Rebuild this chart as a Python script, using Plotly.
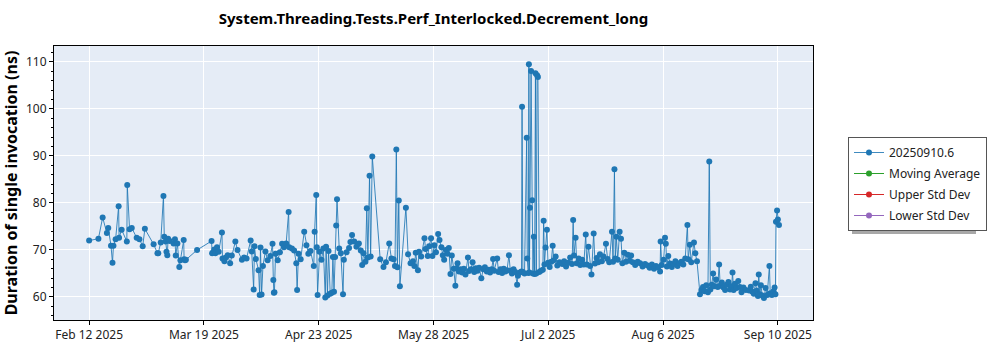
import plotly.graph_objects as go

# ---- data ----
dates_feb = ["2025-02-12 00:00", "2025-02-14 20:00", "2025-02-16 03:00", "2025-02-17 10:00", "2025-02-17 20:00",
             "2025-02-18 16:00", "2025-02-19 03:00", "2025-02-19 10:00", "2025-02-20 02:00", "2025-02-21 00:00",
             "2025-02-21 03:00", "2025-02-21 22:00", "2025-02-23 12:00", "2025-02-23 15:00", "2025-02-24 08:00",
             "2025-02-25 00:00", "2025-02-26 12:00", "2025-02-27 08:00", "2025-02-28 08:00"]
vals_feb = [72.0, 72.4, 76.9, 73.6, 74.7, 70.9, 67.3, 70.9, 72.3, 79.3,
            72.6, 74.3, 71.8, 83.8, 74.4, 74.7, 72.6, 72.3, 70.8]

dates_mar = ["2025-03-01 00:00", "2025-03-03 16:00", "2025-03-04 20:00", "2025-03-05 02:00", "2025-03-05 20:00",
             "2025-03-06 16:00", "2025-03-06 22:00", "2025-03-07 08:00", "2025-03-07 14:00", "2025-03-07 20:00",
             "2025-03-08 02:00", "2025-03-08 14:00", "2025-03-09 18:00", "2025-03-10 04:00", "2025-03-10 10:00",
             "2025-03-10 22:00", "2025-03-11 12:00", "2025-03-11 20:00", "2025-03-12 20:00", "2025-03-12 23:00",
             "2025-03-13 06:00", "2025-03-13 12:00", "2025-03-16 22:00", "2025-03-21 08:00", "2025-03-21 12:00",
             "2025-03-21 20:00", "2025-03-22 04:00", "2025-03-22 12:00", "2025-03-23 00:00", "2025-03-23 12:00",
             "2025-03-24 12:00", "2025-03-24 16:00", "2025-03-25 06:00", "2025-03-25 16:00", "2025-03-26 06:00",
             "2025-03-27 00:00", "2025-03-27 12:00", "2025-03-28 14:00", "2025-03-29 06:00", "2025-03-30 14:00",
             "2025-03-31 06:00"]
vals_mar = [74.5, 71.2, 69.3, 69.3, 71.6, 81.5, 72.8, 71.8, 69.6, 68.9,
            72.4, 71.9, 71.4, 72.3, 68.8, 71.4, 66.4, 67.8, 72.1, 68.0,
            67.8, 67.9, 70.0, 71.9, 69.3, 69.5, 70.1, 69.3, 70.6, 69.6,
            73.7, 68.2, 67.6, 68.4, 68.9, 67.2, 68.8, 71.8, 70.0, 67.9,
            68.4]

dates_apr = ["2025-04-01 00:00", "2025-04-02 06:00", "2025-04-02 14:00", "2025-04-03 04:00", "2025-04-03 10:00",
             "2025-04-03 20:00", "2025-04-04 16:00", "2025-04-05 00:00", "2025-04-05 06:00", "2025-04-05 14:00",
             "2025-04-06 00:00", "2025-04-06 18:00", "2025-04-07 10:00", "2025-04-08 06:00", "2025-04-08 22:00",
             "2025-04-09 04:00", "2025-04-09 08:00", "2025-04-09 12:00", "2025-04-09 20:00", "2025-04-10 12:00",
             "2025-04-11 04:00", "2025-04-11 20:00", "2025-04-12 10:00", "2025-04-13 02:00", "2025-04-13 20:00",
             "2025-04-14 00:00", "2025-04-14 20:00", "2025-04-15 12:00", "2025-04-16 04:00", "2025-04-16 10:00",
             "2025-04-16 20:00", "2025-04-17 12:00", "2025-04-18 14:00", "2025-04-19 06:00", "2025-04-19 20:00",
             "2025-04-20 12:00", "2025-04-21 12:00", "2025-04-21 18:00", "2025-04-22 06:00", "2025-04-22 10:00",
             "2025-04-22 16:00", "2025-04-23 06:00", "2025-04-23 20:00", "2025-04-24 10:00", "2025-04-25 00:00",
             "2025-04-25 06:00", "2025-04-25 16:00", "2025-04-26 00:00", "2025-04-26 12:00", "2025-04-27 00:00",
             "2025-04-27 08:00", "2025-04-27 16:00", "2025-04-28 00:00", "2025-04-28 08:00", "2025-04-28 14:00",
             "2025-04-29 06:00", "2025-04-29 18:00", "2025-04-30 10:00", "2025-04-30 16:00"]
vals_apr = [68.2, 72.0, 69.7, 61.6, 70.8, 68.1, 65.7, 60.4, 70.5, 60.5,
            66.6, 69.7, 67.8, 68.7, 71.3, 63.6, 60.9, 61.0, 69.2, 67.8,
            69.5, 71.3, 70.6, 71.4, 78.1, 70.6, 70.3, 69.9, 67.2, 61.5,
            69.2, 68.0, 73.9, 71.0, 69.2, 69.8, 66.6, 73.9, 81.7, 70.6,
            60.4, 69.6, 67.9, 70.3, 59.9, 70.7, 60.3, 69.8, 60.7, 60.9,
            68.5, 61.1, 68.5, 75.2, 80.8, 70.3, 69.3, 60.6, 67.9]

dates_may = ["2025-05-01 12:00", "2025-05-02 06:00", "2025-05-02 16:00", "2025-05-03 04:00", "2025-05-03 20:00",
             "2025-05-04 12:00", "2025-05-05 06:00", "2025-05-05 20:00", "2025-05-06 06:00", "2025-05-06 16:00",
             "2025-05-07 06:00", "2025-05-07 16:00", "2025-05-08 00:00", "2025-05-08 12:00", "2025-05-08 20:00",
             "2025-05-09 08:00", "2025-05-11 18:00", "2025-05-12 18:00", "2025-05-13 12:00", "2025-05-14 12:00",
             "2025-05-15 04:00", "2025-05-15 20:00", "2025-05-16 06:00", "2025-05-16 16:00", "2025-05-17 00:00",
             "2025-05-17 10:00", "2025-05-17 18:00", "2025-05-19 14:00", "2025-05-20 06:00", "2025-05-21 00:00",
             "2025-05-21 18:00", "2025-05-22 04:00", "2025-05-22 14:00", "2025-05-23 06:00", "2025-05-23 14:00",
             "2025-05-24 06:00", "2025-05-25 06:00", "2025-05-25 14:00", "2025-05-26 06:00", "2025-05-26 16:00",
             "2025-05-27 06:00", "2025-05-27 16:00", "2025-05-28 06:00", "2025-05-28 18:00", "2025-05-29 10:00",
             "2025-05-29 20:00", "2025-05-30 10:00", "2025-05-30 20:00", "2025-05-31 06:00", "2025-05-31 18:00"]
vals_may = [69.5, 70.4, 71.7, 73.2, 71.8, 70.7, 71.4, 69.9, 66.8, 69.3,
            67.5, 78.9, 68.4, 85.8, 68.6, 89.9, 68.0, 66.4, 67.4, 71.4,
            68.2, 68.0, 66.6, 91.4, 66.3, 80.5, 62.3, 79.0, 69.1, 67.2,
            67.6, 66.6, 69.4, 65.7, 69.6, 68.6, 72.5, 70.2, 68.7, 70.8,
            72.5, 68.7, 71.0, 69.5, 73.4, 72.1, 70.6, 68.9, 67.9, 70.0]

dates_jun = ["2025-06-01 06:00", "2025-06-01 16:00", "2025-06-02 04:00", "2025-06-02 14:00", "2025-06-03 04:00",
             "2025-06-03 16:00", "2025-06-04 00:00", "2025-06-04 08:00", "2025-06-04 18:00", "2025-06-05 06:00",
             "2025-06-05 18:00", "2025-06-06 06:00", "2025-06-06 18:00", "2025-06-07 12:00", "2025-06-07 20:00",
             "2025-06-08 10:00", "2025-06-08 22:00", "2025-06-09 10:00", "2025-06-09 22:00", "2025-06-10 10:00",
             "2025-06-10 22:00", "2025-06-11 14:00", "2025-06-12 04:00", "2025-06-12 16:00", "2025-06-13 06:00",
             "2025-06-13 18:00", "2025-06-14 06:00", "2025-06-14 18:00", "2025-06-15 04:00", "2025-06-15 12:00",
             "2025-06-16 10:00", "2025-06-16 20:00", "2025-06-17 10:00", "2025-06-17 22:00", "2025-06-18 10:00",
             "2025-06-18 22:00", "2025-06-19 10:00", "2025-06-20 00:00", "2025-06-20 10:00", "2025-06-20 22:00",
             "2025-06-21 10:00", "2025-06-21 22:00", "2025-06-22 12:00", "2025-06-22 18:00", "2025-06-23 08:00",
             "2025-06-23 20:00", "2025-06-24 00:00", "2025-06-24 06:00", "2025-06-24 18:00", "2025-06-25 10:00",
             "2025-06-25 14:00", "2025-06-25 22:00", "2025-06-26 02:00", "2025-06-26 06:00", "2025-06-26 10:00",
             "2025-06-26 18:00", "2025-06-27 02:00", "2025-06-27 08:00", "2025-06-27 14:00", "2025-06-27 20:00",
             "2025-06-28 02:00", "2025-06-28 08:00", "2025-06-28 14:00", "2025-06-28 20:00", "2025-06-29 06:00",
             "2025-06-29 18:00", "2025-06-30 08:00", "2025-06-30 14:00", "2025-06-30 20:00"]
vals_jun = [69.2, 70.4, 64.9, 68.8, 66.0, 62.4, 66.1, 67.2, 65.4, 65.9,
            65.2, 66.0, 64.8, 68.4, 65.5, 65.9, 67.4, 65.3, 66.1, 65.6,
            66.2, 64.0, 65.9, 66.3, 65.4, 65.8, 65.2, 65.9, 68.1, 65.6,
            68.2, 65.3, 65.9, 65.1, 66.0, 65.4, 65.7, 68.9, 65.6, 65.0,
            65.9, 65.3, 62.6, 64.5, 65.2, 65.4, 100.5, 65.3, 65.0, 93.9,
            68.2, 65.1, 109.5, 65.2, 79.0, 108.1, 80.6, 65.0, 72.8, 64.9,
            107.6, 65.0, 107.2, 106.8, 65.3, 65.6, 65.8, 76.2, 66.9]

dates_jul = ["2025-07-01 04:00", "2025-07-01 14:00", "2025-07-01 22:00", "2025-07-02 10:00", "2025-07-02 22:00",
             "2025-07-03 08:00", "2025-07-03 16:00", "2025-07-04 06:00", "2025-07-04 18:00", "2025-07-05 10:00",
             "2025-07-06 06:00", "2025-07-06 20:00", "2025-07-07 10:00", "2025-07-08 02:00", "2025-07-08 16:00",
             "2025-07-09 06:00", "2025-07-09 14:00", "2025-07-09 20:00", "2025-07-10 08:00", "2025-07-10 16:00",
             "2025-07-11 06:00", "2025-07-11 18:00", "2025-07-12 08:00", "2025-07-12 20:00", "2025-07-13 10:00",
             "2025-07-13 18:00", "2025-07-14 06:00", "2025-07-14 18:00", "2025-07-15 04:00", "2025-07-15 20:00",
             "2025-07-16 06:00", "2025-07-16 18:00", "2025-07-17 06:00", "2025-07-17 18:00", "2025-07-18 08:00",
             "2025-07-18 20:00", "2025-07-19 14:00", "2025-07-20 02:00", "2025-07-20 14:00", "2025-07-21 10:00",
             "2025-07-21 18:00", "2025-07-22 04:00", "2025-07-22 10:00", "2025-07-22 18:00", "2025-07-23 04:00",
             "2025-07-23 18:00", "2025-07-24 04:00", "2025-07-24 14:00", "2025-07-25 04:00", "2025-07-25 16:00",
             "2025-07-26 06:00", "2025-07-26 18:00", "2025-07-27 06:00", "2025-07-27 18:00", "2025-07-28 12:00",
             "2025-07-29 06:00", "2025-07-30 00:00", "2025-07-30 18:00", "2025-07-31 12:00"]
vals_jul = [70.5, 74.3, 67.3, 66.4, 67.5, 70.9, 67.8, 68.6, 66.7, 67.4,
            67.0, 67.6, 66.5, 67.3, 68.4, 67.0, 76.4, 68.8, 72.6, 67.2,
            68.2, 66.8, 67.9, 66.9, 73.3, 66.9, 70.7, 66.6, 64.8, 73.5,
            67.1, 68.3, 67.4, 69.1, 67.6, 68.6, 71.3, 68.1, 67.4, 73.9,
            67.5, 87.2, 68.2, 72.8, 67.9, 73.9, 72.4, 67.2, 69.4, 67.5,
            69.0, 67.7, 68.8, 67.4, 66.8, 67.5, 67.2, 66.5, 67.0]

dates_aug = ["2025-08-01 06:00", "2025-08-01 22:00", "2025-08-02 14:00", "2025-08-03 06:00", "2025-08-03 20:00",
             "2025-08-04 12:00", "2025-08-05 02:00", "2025-08-05 06:00", "2025-08-05 14:00", "2025-08-06 04:00",
             "2025-08-06 14:00", "2025-08-06 20:00", "2025-08-07 04:00", "2025-08-07 14:00", "2025-08-08 04:00",
             "2025-08-08 16:00", "2025-08-09 06:00", "2025-08-09 18:00", "2025-08-10 10:00", "2025-08-11 00:00",
             "2025-08-11 14:00", "2025-08-12 04:00", "2025-08-12 18:00", "2025-08-13 10:00", "2025-08-13 16:00",
             "2025-08-14 04:00", "2025-08-14 14:00", "2025-08-15 10:00", "2025-08-15 20:00", "2025-08-16 08:00",
             "2025-08-17 06:00", "2025-08-17 16:00", "2025-08-18 04:00", "2025-08-18 16:00", "2025-08-19 04:00",
             "2025-08-19 16:00", "2025-08-20 02:00", "2025-08-20 10:00", "2025-08-20 20:00", "2025-08-21 06:00",
             "2025-08-21 16:00", "2025-08-22 04:00", "2025-08-22 16:00", "2025-08-23 02:00", "2025-08-23 10:00",
             "2025-08-23 22:00", "2025-08-24 10:00", "2025-08-24 22:00", "2025-08-25 10:00", "2025-08-25 22:00",
             "2025-08-26 10:00", "2025-08-26 22:00", "2025-08-27 04:00", "2025-08-27 12:00", "2025-08-27 22:00",
             "2025-08-28 10:00", "2025-08-28 22:00", "2025-08-29 10:00", "2025-08-29 22:00", "2025-08-30 12:00",
             "2025-08-31 06:00"]
vals_aug = [66.7, 66.2, 66.9, 66.0, 66.6, 66.3, 65.4, 71.8, 66.8, 67.9,
            72.6, 71.3, 66.5, 68.7, 67.1, 66.4, 67.0, 67.6, 66.6, 67.2,
            67.5, 66.9, 68.2, 75.3, 68.0, 71.1, 67.4, 71.6, 69.3, 67.6,
            60.6, 61.5, 62.1, 61.2, 62.5, 61.0, 88.8, 61.6, 62.6, 65.0,
            62.3, 63.7, 62.1, 66.9, 62.4, 63.1, 62.0, 61.5, 62.6, 63.2,
            61.6, 62.3, 65.2, 61.5, 62.8, 61.9, 63.4, 62.1, 61.0, 62.0,
            61.5]

dates_sep = ["2025-09-01 06:00", "2025-09-01 18:00", "2025-09-02 06:00", "2025-09-02 16:00", "2025-09-03 04:00",
             "2025-09-03 14:00", "2025-09-03 22:00", "2025-09-04 04:00", "2025-09-04 12:00", "2025-09-04 20:00",
             "2025-09-05 06:00", "2025-09-05 18:00", "2025-09-06 06:00", "2025-09-06 18:00", "2025-09-07 10:00",
             "2025-09-07 16:00", "2025-09-08 04:00", "2025-09-08 16:00", "2025-09-09 00:00", "2025-09-09 06:00",
             "2025-09-09 10:00", "2025-09-09 18:00", "2025-09-10 00:00", "2025-09-10 08:00"]
vals_sep = [61.4, 62.2, 61.1, 60.7, 62.9, 61.3, 60.2, 64.8, 60.6, 62.5,
            60.3, 59.8, 61.9, 60.4, 66.6, 60.8, 60.4, 61.2, 62.0, 60.6,
            76.0, 78.4, 76.5, 75.3]

series_name = "20250910.6"
legend_names = ["Moving Average", "Upper Std Dev", "Lower Std Dev"]
legend_colors = ["#2ca02c", "#d62728", "#9467bd"]
x_tick_labels = ["Feb 12 2025", "Mar 19 2025", "Apr 23 2025", "May 28 2025", "Jul 2 2025", "Aug 6 2025", "Sep 10 2025"]
x_tick_vals = ["2025-02-12", "2025-03-19", "2025-04-23", "2025-05-28", "2025-07-02", "2025-08-06", "2025-09-10"]
y_tick_vals = [60, 70, 80, 90, 100, 110]

dates = dates_feb + dates_mar + dates_apr + dates_may + dates_jun + dates_jul + dates_aug + dates_sep
values = vals_feb + vals_mar + vals_apr + vals_may + vals_jun + vals_jul + vals_aug + vals_sep

FONT = "Noto Sans"
fig = go.Figure()
fig.add_trace(go.Scatter(
    x=dates, y=values, name=series_name, mode="lines+markers", legendgroup="g0",
    line=dict(color="rgba(31,119,180,0.85)", width=1),
    marker=dict(color="#1f77b4", size=6),
))
for i, (nm, col) in enumerate(zip(legend_names, legend_colors)):
    fig.add_trace(go.Scatter(x=[None], y=[None], name=nm, mode="lines+markers", legendgroup=f"g{i+1}",
                             line=dict(color=col, width=1), marker=dict(color=col, size=6)))

W, H = 1000, 350
ml, mr, mt, mb = 54, 187, 46, 30
pw, ph = W - ml - mr, H - mt - mb

# legend shadow (paper coords)
lx0, ly0, lx1, ly1 = 852, 141, 976, 234
fig.add_shape(type="rect", xref="paper", yref="paper",
              x0=(lx0 - ml) / pw, x1=(lx1 - ml) / pw,
              y0=(H - mb - ly1) / ph, y1=(H - mb - ly0) / ph,
              fillcolor="#a8a8a8", line=dict(width=0), layer="below")

fig.update_layout(
    width=W, height=H,
    margin=dict(l=ml, r=mr, t=mt, b=mb, autoexpand=False),
    paper_bgcolor="white", plot_bgcolor="#E5ECF6",
    font=dict(family=FONT, color="#222222", size=12),
    title=dict(text="<b>System.Threading.Tests.Perf_Interlocked.Decrement_long</b>",
               x=(ml + pw / 2) / W, xanchor="center", y=1 - 19 / H, yanchor="middle",
               font=dict(size=15, family=FONT, color="#000000")),
    showlegend=True,
    legend=dict(x=(848 - ml) / pw, y=(H - mb - 137) / ph, xanchor="left", yanchor="top",
                bgcolor="white", bordercolor="#555555", borderwidth=1,
                font=dict(size=12, family=FONT), tracegroupgap=2, itemwidth=30),
    xaxis=dict(range=["2025-02-01 07:00", "2025-09-20 17:00"], type="date",
               tickvals=x_tick_vals, ticktext=x_tick_labels, automargin=False,
               showgrid=True, gridcolor="white", gridwidth=1,
               showline=True, linecolor="black", linewidth=1, mirror=True,
               ticks="outside", ticklen=4, tickcolor="black", zeroline=False,
               tickfont=dict(size=12)),
    yaxis=dict(range=[55.1, 113.4], tickvals=y_tick_vals, automargin=False,
               showgrid=True, gridcolor="white", gridwidth=1,
               showline=True, linecolor="black", linewidth=1, mirror=True,
               ticks="outside", ticklen=4, tickcolor="black", zeroline=False,
               minor=dict(ticks="outside", ticklen=2, dtick=2, tickcolor="black", showgrid=False),
               tickfont=dict(size=12),
               title=dict(text="<b>Duration of single invocation (ns)</b>",
                          font=dict(size=16, color="#000000"), standoff=6)),
)

fig.write_html("out.html")
